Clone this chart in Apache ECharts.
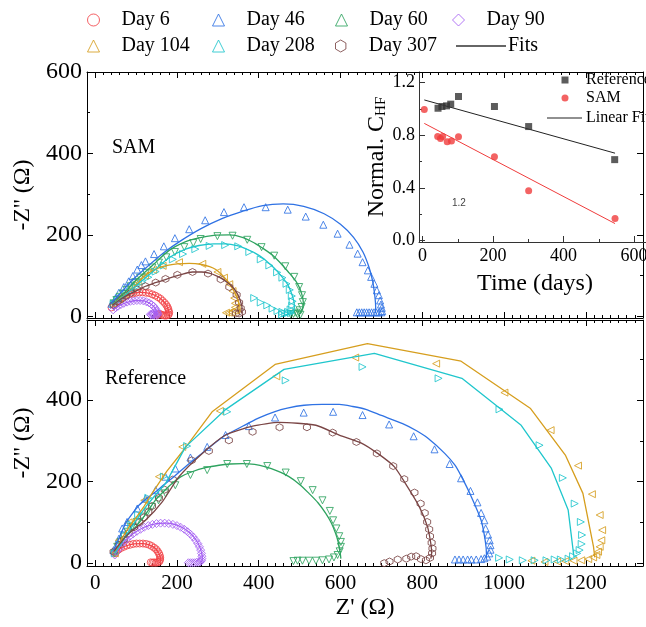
<!DOCTYPE html>
<html>
<head>
<meta charset="utf-8">
<script src="https://cdn.jsdelivr.net/npm/echarts@6/dist/echarts.min.js"></script>
<style>
  html, body { margin: 0; padding: 0; background: #fff; }
  #chart { width: 646px; height: 627px; }
</style>
</head>
<body>
<div id="chart"></div>
<script>
// ---- SAM panel (top): Nyquist data, [Z', -Z''] in ohm
var samD6 = [[40,22],[45,28],[50,33],[56,38],[62,43],[69,47],[76,51],[84,54],[92,56],[100,58],[108,59],[116,59],[124,58],[132,57],[140,54],[147,51],[154,47],[160,43],[165,38],[170,33],[174,28],[177,23],[179,18],[180,13],[181,9],[180,5],[178,3],[174,2],[170,2],[166,3],[162,4],[158,6],[155,5],[152,3]];
var samD6Fit = [[41,22],[55,37],[70,48],[90,56],[110,59],[130,57],[150,50],[165,39],[175,26],[180,12],[181,4],[179,1]];
var samD46 = [[40,31],[50,45],[58,58],[70,72],[82,86],[92,99],[103,115],[113,126],[123,135],[144,153],[168,172],[195,192],[230,214],[269,236],[315,256],[364,268],[417,268],[471,262],[515,245],[558,225],[593,203],[622,176],[642,154],[654,133],[667,113],[675,97],[683,80],[689,64],[694,52],[697,39],[699,29],[701,21],[702,13],[700,10],[694,10],[688,10],[682,10],[676,10],[670,10],[664,10],[658,10],[652,10],[646,10],[640,10]];
var samD46Fit = [[38,30],[60,55],[90,88],[130,124],[170,158],[210,186],[260,216],[310,240],[360,258],[410,272],[460,276],[510,270],[560,252],[600,226],[632,194],[655,158],[670,120],[679,85],[684,50],[686,25],[686,12],[684,8]];
var samD60 = [[45,32],[52,40],[60,48],[68,56],[77,65],[87,74],[98,84],[110,95],[124,107],[140,120],[156,132],[174,145],[195,158],[218,170],[240,180],[258,190],[299,197],[336,198],[372,188],[407,170],[438,149],[465,123],[487,97],[499,72],[506,52],[508,35],[505,23],[500,15],[492,9],[485,6],[478,5],[495,5],[502,4]];
var samD60Fit = [[42,29],[60,47],[80,67],[99,88],[140,125],[181,162],[220,183],[254,193],[290,199],[328,200],[360,194],[390,180],[409,168],[434,150],[456,128],[475,106],[490,88],[499,72],[506,52],[509,35],[508,20],[504,10],[499,5]];
var samD90 = [[44,16],[50,21],[56,25],[63,29],[70,32],[78,35],[86,37],[94,38],[102,39],[110,39],[118,38],[125,36],[132,33],[138,29],[143,25],[147,20],[150,15],[152,10],[153,6],[152,3],[148,2],[144,3],[140,4],[137,3],[135,5],[140,7],[145,6]];
var samD90Fit = [[44,16],[60,27],[80,35],[100,39],[120,38],[135,31],[146,21],[151,10],[152,3]];
var samD104 = [[45,30],[58,42],[72,55],[88,70],[104,85],[122,100],[142,114],[165,124],[205,133],[262,129],[299,109],[315,95],[328,79],[336,62],[340,45],[342,32],[342,22],[339,14],[334,10],[327,9],[320,9]];
var samD104Fit = [[42,27],[62,45],[82,60],[103,80],[123,101],[142,113],[160,121],[180,126],[201,129],[230,130],[258,128],[280,122],[295,115],[308,104],[319,92],[329,80],[336,68],[343,55],[348,43],[352,32],[354,23],[354,11],[350,7]];
var samD208 = [[45,30],[55,38],[65,46],[75,53],[87,62],[100,72],[115,84],[130,96],[148,110],[168,125],[190,140],[215,153],[245,165],[280,173],[318,175],[350,172],[377,158],[405,140],[426,125],[445,108],[458,95],[468,80],[476,65],[481,50],[483,37],[482,26],[478,17],[472,11],[465,7],[457,5],[479,8],[471,8],[458,11],[446,13],[434,19],[421,27],[405,34],[389,45]];
var samD208Fit = [[42,27],[70,50],[99,74],[140,109],[181,144],[221,165],[254,174],[290,178],[319,178],[350,173],[368,166],[390,156],[409,144],[430,126],[446,110],[461,92],[471,78],[479,60],[484,45],[487,30],[487,20],[484,11],[478,6],[468,5]];
var samD307 = [[45,28],[55,36],[65,43],[75,50],[88,58],[103,66],[123,74],[148,83],[172,92],[201,102],[238,109],[276,105],[307,91],[328,72],[346,53],[352,34],[356,20],[359,11],[352,7],[344,7]];
var samD307Fit = [[42,27],[62,42],[82,54],[103,64],[123,74],[145,82],[164,88],[185,95],[205,101],[238,109],[260,109],[279,106],[298,99],[311,92],[325,82],[336,72],[345,60],[352,47],[356,35],[359,23],[359,12],[357,7]];

// ---- Reference panel (bottom)
var refD6 = [[48,24],[52,29],[57,33],[63,37],[70,40],[77,43],[85,45],[93,47],[101,48],[109,48],[117,48],[125,47],[132,45],[138,42],[144,38],[149,34],[153,29],[156,24],[158,19],[159,14],[159,10],[158,6],[156,3],[152,2],[148,1],[144,2],[140,1],[136,2]];
var refD6Fit = [[48,24],[60,35],[75,42],[95,47],[115,48],[132,45],[145,38],[153,29],[158,19],[160,9],[159,3],[155,1]];
var refD46 = [[45,32],[58,60],[66,85],[78,101],[103,134],[123,158],[148,179],[172,212],[196,232],[233,259],[274,285],[319,314],[376,336],[440,357],[510,369],[582,371],[654,363],[719,340],[779,311],[830,279],[867,243],[895,208],[918,177],[935,149],[944,123],[952,105],[955,85],[961,70],[965,56],[967,44],[967,33],[964,24],[959,16],[952,12],[944,10],[932,9],[920,9],[911,9],[900,9],[890,9],[880,9]];
var refD46Fit = [[45,32],[60,65],[74,97],[90,120],[107,142],[128,160],[148,175],[168,192],[188,208],[225,240],[266,273],[300,300],[319,314],[350,330],[376,344],[405,358],[438,371],[470,380],[511,387],[555,389],[597,389],[630,384],[662,377],[700,362],[752,342],[785,325],[814,306],[855,269],[880,240],[896,212],[920,163],[944,105],[954,56],[957,24],[957,11]];
var refD60 = [[48,24],[54,40],[62,52],[70,65],[80,77],[90,89],[102,101],[115,114],[128,126],[139,138],[155,154],[172,171],[196,191],[233,216],[274,228],[323,243],[371,243],[421,238],[466,222],[503,201],[532,179],[556,154],[574,128],[582,105],[590,85],[597,66],[601,52],[601,40],[598,29],[593,20],[584,14],[572,9],[556,7],[540,6],[523,6],[507,6],[495,6],[485,5]];
var refD60Fit = [[48,24],[70,60],[99,89],[125,122],[147,154],[170,178],[188,195],[210,212],[237,224],[270,234],[303,240],[330,243],[360,244],[390,242],[417,236],[445,226],[474,212],[500,193],[523,171],[545,148],[564,122],[578,98],[588,73],[595,50],[598,32],[600,20],[601,11]];
var refD90 = [[48,20],[52,28],[58,36],[64,44],[70,52],[77,59],[85,66],[93,72],[102,78],[111,83],[120,88],[130,92],[140,95],[150,97],[160,98],[170,98],[180,97],[190,95],[200,92],[209,88],[218,83],[226,77],[233,71],[240,64],[246,56],[251,48],[255,40],[258,32],[260,24],[261,17],[261,11],[260,6],[257,3],[253,2],[248,2],[243,1],[238,1],[233,1],[228,1]];
var refD90Fit = [[48,20],[60,40],[75,57],[95,74],[120,88],[150,97],[175,98],[200,93],[222,82],[240,66],[252,48],[259,30],[262,14],[261,5],[257,2]];
var refD104 = [[48,24],[58,56],[82,100],[120,154],[156,212],[213,285],[305,373],[443,458],[636,504],[834,489],[1001,418],[1114,326],[1181,239],[1215,169],[1234,118],[1240,81],[1238,56],[1234,40],[1230,28],[1226,20],[1218,14],[1206,10],[1189,7],[1170,6],[1150,5],[1130,4],[1099,3],[1067,6]];
var refD104Fit = [[48,24],[65,60],[82,88],[99,110],[120,140],[139,171],[175,225],[213,273],[286,371],[440,487],[666,538],[895,495],[1065,379],[1150,265],[1193,171],[1219,40],[1222,14]];
var refD208 = [[48,24],[60,45],[72,70],[88,95],[105,120],[130,160],[168,212],[225,287],[323,371],[466,448],[654,481],[840,453],[989,377],[1087,289],[1144,209],[1173,146],[1188,101],[1191,69],[1190,47],[1185,32],[1179,24],[1169,17],[1158,11],[1139,9],[1124,9],[1104,7],[1075,7],[1046,7],[1014,9],[988,13]];
var refD208Fit = [[48,24],[65,50],[82,78],[100,105],[125,140],[150,170],[172,195],[221,285],[317,375],[462,475],[683,514],[897,453],[1042,338],[1116,232],[1157,130],[1169,32],[1170,20]];
var refD307 = [[45,28],[58,45],[70,58],[82,73],[95,88],[108,100],[119,112],[130,125],[139,140],[156,160],[170,180],[190,205],[236,252],[278,275],[327,301],[385,322],[451,333],[518,333],[581,320],[639,297],[689,269],[729,238],[756,206],[781,173],[796,146],[806,123],[812,101],[817,83],[819,66],[823,50],[825,36],[824,24],[819,13],[809,7],[797,10],[785,17],[773,16],[761,11],[740,9],[720,4],[707,0]];
var refD307Fit = [[45,28],[82,73],[123,105],[164,150],[205,212],[262,269],[319,314],[385,336],[450,345],[540,338],[597,314],[650,295],[691,269],[732,236],[764,187],[793,138],[813,89],[821,48],[823,24],[821,11]];

// ---- inset: normalised C_HF vs time
var insetRef = [[44,1.005],[55,1.018],[68,1.023],[80,1.036],[102,1.094],[204,1.018],[301,0.866],[545,0.615]];
var insetSam = [[5,0.995],[43,0.79],[51,0.775],[57,0.79],[70,0.75],[82,0.757],[102,0.788],[204,0.636],[301,0.378],[546,0.168]];
var insetRefFit = [[5,1.068],[546,0.664]];
var insetSamFit = [[5,0.89],[546,0.13]];

// ticks
var xTicks = [0, 200, 400, 600, 800, 1000, 1200];
var yTicksTop = [0, 200, 400, 600];
var yTicksBot = [0, 200, 400];
var yMinorMain = [100, 300, 500];
var inXTicks = [0, 200, 400, 600];
var inXMinor = [100, 300, 500];
var inYTicks = [0, 0.4, 0.8, 1.2];
var inYMinor = [0.2, 0.6, 1.0];

var xMinor = [];
for (var v = -20; v <= 1340; v += 20) { if (v % 200 !== 0) xMinor.push(v); }

var FONT = 'Liberation Serif';
var COL = {
  d6: '#f2454a', d46: '#2f72e4', d60: '#2ea35f', d90: '#a45ff2',
  d104: '#d69e1e', d208: '#1fc6cc', d307: '#7a4545'
};
var HEX = 'path://M0,-1L0.866,-0.5L0.866,0.5L0,1L-0.866,0.5L-0.866,-0.5Z';

function ax(o) {
  var a = {
    type: 'value', gridIndex: o.g, min: o.min, max: o.max, position: o.pos,
    axisLine: { show: o.line !== false, onZero: false, lineStyle: { color: o.color || '#000', width: 1 } },
    axisTick: { show: true, inside: true, length: o.len || 6, customValues: o.ticks, lineStyle: { color: o.color || '#000', width: 1 } },
    axisLabel: { show: false },
    splitLine: { show: false }
  };
  if (o.labels) {
    a.axisLabel = { show: true, customValues: o.labels, fontFamily: FONT, fontSize: o.fs || 22, color: '#000', margin: o.margin || 6,
      formatter: o.fmt || function (v) { return String(v); } };
  }
  if (o.name) {
    a.name = o.name; a.nameLocation = 'middle'; a.nameGap = o.nameGap;
    a.nameTextStyle = o.nameStyle || { fontFamily: FONT, fontSize: 24, color: '#000' };
  }
  return a;
}

var xAxes = [
  ax({ g: 0, min: -20, max: 1340, pos: 'bottom', ticks: xTicks }),
  ax({ g: 0, min: -20, max: 1340, pos: 'top', ticks: xTicks }),
  ax({ g: 1, min: -20, max: 1340, pos: 'bottom', ticks: xTicks, labels: xTicks, fs: 21, margin: 7, name: "Z' (Ω)", nameGap: 30 }),
  ax({ g: 1, min: -20, max: 1340, pos: 'top', ticks: xTicks }),
  ax({ g: 2, min: -10, max: 648, pos: 'bottom', ticks: inXTicks, labels: inXTicks, fs: 18, margin: 5, color: '#333', name: 'Time (days)', nameGap: 30 }),
  ax({ g: 0, min: -20, max: 1340, pos: 'bottom', ticks: xMinor, len: 3, line: false }),
  ax({ g: 0, min: -20, max: 1340, pos: 'top', ticks: xMinor, len: 3, line: false }),
  ax({ g: 1, min: -20, max: 1340, pos: 'bottom', ticks: xMinor, len: 3, line: false }),
  ax({ g: 1, min: -20, max: 1340, pos: 'top', ticks: xMinor, len: 3, line: false }),
  ax({ g: 2, min: -10, max: 648, pos: 'bottom', ticks: inXMinor, len: 3, line: false, color: '#333' })
];

var yAxes = [
  ax({ g: 0, min: -4, max: 600, pos: 'left', ticks: yTicksTop, labels: yTicksTop, fs: 24, margin: 5, name: "-Z'' (Ω)", nameGap: 46 }),
  ax({ g: 0, min: -4, max: 600, pos: 'right', ticks: yTicksTop }),
  ax({ g: 1, min: -7, max: 596, pos: 'left', ticks: yTicksBot, labels: yTicksBot, fs: 24, margin: 5, name: "-Z'' (Ω)", nameGap: 46 }),
  ax({ g: 1, min: -7, max: 596, pos: 'right', ticks: yTicksBot }),
  ax({ g: 2, min: -0.01, max: 1.28, pos: 'left', ticks: inYTicks, labels: inYTicks, fs: 18, margin: 4, color: '#333',
       fmt: function (v) { return v.toFixed(1); },
       name: '{a|Normal. C}{b|HF}', nameGap: 30,
       nameStyle: { color: '#000', rich: {
         a: { fontFamily: FONT, fontSize: 24, lineHeight: 24, verticalAlign: 'top' },
         b: { fontFamily: FONT, fontSize: 15, lineHeight: 15, verticalAlign: 'bottom', padding: [12, 0, 0, 0] }
       } } }),
  ax({ g: 0, min: -4, max: 600, pos: 'left', ticks: yMinorMain, len: 3, line: false }),
  ax({ g: 0, min: -4, max: 600, pos: 'right', ticks: yMinorMain, len: 3, line: false }),
  ax({ g: 1, min: -7, max: 596, pos: 'left', ticks: yMinorMain, len: 3, line: false }),
  ax({ g: 1, min: -7, max: 596, pos: 'right', ticks: yMinorMain, len: 3, line: false }),
  ax({ g: 2, min: -0.01, max: 1.28, pos: 'left', ticks: inYMinor, len: 3, line: false, color: '#333' })
];

var series = [];
function marks(name, data, color, symbol, rotate, panel) {
  series.push({
    name: name, type: 'scatter', data: data,
    xAxisIndex: panel === 0 ? 0 : 2, yAxisIndex: panel === 0 ? 0 : 2,
    symbol: symbol, symbolRotate: rotate, symbolSize: symbol === 'diamond' ? 8 : 7,
    itemStyle: { color: 'rgba(255,255,255,0)', borderColor: color, borderWidth: 1, opacity: 0.85 },
    silent: true
  });
}
function fit(name, data, color, panel, smooth) {
  series.push({
    name: name, type: 'line', data: data,
    xAxisIndex: panel === 0 ? 0 : 2, yAxisIndex: panel === 0 ? 0 : 2,
    symbol: 'none', smooth: smooth, lineStyle: { color: color, width: 1.3 }, itemStyle: { color: color },
    silent: true
  });
}

var days = [
  { n: 'Day 6', c: COL.d6, s: 'circle', r: 0, sam: samD6, samFit: samD6Fit, ref: refD6, refFit: refD6Fit, sm: 0.3 },
  { n: 'Day 46', c: COL.d46, s: 'triangle', r: 0, sam: samD46, samFit: samD46Fit, ref: refD46, refFit: refD46Fit, sm: 0.2 },
  { n: 'Day 60', c: COL.d60, s: 'triangle', r: 180, sam: samD60, samFit: samD60Fit, ref: refD60, refFit: refD60Fit, sm: 0.3 },
  { n: 'Day 90', c: COL.d90, s: 'diamond', r: 0, sam: samD90, samFit: samD90Fit, ref: refD90, refFit: refD90Fit, sm: 0.3 },
  { n: 'Day 104', c: COL.d104, s: 'triangle', r: 90, sam: samD104, samFit: samD104Fit, ref: refD104, refFit: refD104Fit, sm: 0 },
  { n: 'Day 208', c: COL.d208, s: 'triangle', r: -90, sam: samD208, samFit: samD208Fit, ref: refD208, refFit: refD208Fit, sm: 0 },
  { n: 'Day 307', c: COL.d307, s: HEX, r: 0, sam: samD307, samFit: samD307Fit, ref: refD307, refFit: refD307Fit, sm: 0.2 }
];
days.forEach(function (d) {
  marks(d.n, d.sam, d.c, d.s, d.r, 0);
  marks(d.n, d.ref, d.c, d.s, d.r, 1);
  fit(d.n + ' fit', d.samFit, d.c, 0, 0.3);
  fit(d.n + ' fit', d.refFit, d.c, 1, d.sm);
});
// legend entry for the fits
series.push({ name: 'Fits', type: 'line', data: [], xAxisIndex: 0, yAxisIndex: 0, symbol: 'none',
  lineStyle: { color: '#333', width: 1.5 }, itemStyle: { color: '#333' } });

// inset
series.push({ name: 'Reference', type: 'scatter', data: insetRef, xAxisIndex: 4, yAxisIndex: 4,
  symbol: 'rect', symbolSize: 7, itemStyle: { color: '#333' }, z: 5 });
series.push({ name: 'SAM', type: 'scatter', data: insetSam, xAxisIndex: 4, yAxisIndex: 4,
  symbol: 'circle', symbolSize: 7, itemStyle: { color: '#f03c3c' }, z: 5 });
series.push({ name: 'Linear Fit', type: 'line', data: insetRefFit, xAxisIndex: 4, yAxisIndex: 4,
  symbol: 'none', lineStyle: { color: '#222', width: 1 }, itemStyle: { color: '#222' } });
series.push({ name: 'SAM fit', type: 'line', data: insetSamFit, xAxisIndex: 4, yAxisIndex: 4,
  symbol: 'none', lineStyle: { color: '#f03c3c', width: 1 }, itemStyle: { color: '#f03c3c' } });

// marker legends: icon box of size w centred on cx, text starts at cx + gap
function legMark(name, cx, cy, w, fs, gap, bw) {
  var l = {
    data: [name], left: cx - w / 2, top: cy - fs / 2 - 1, padding: 0, itemWidth: w, itemHeight: w, selectedMode: false,
    textStyle: { fontFamily: FONT, fontSize: fs, color: '#000', padding: [0, 0, 0, gap - w / 2 - 5] }
  };
  if (bw) l.itemStyle = { borderWidth: bw };
  return l;
}
function legLine(name, x0, x1, cy, fs, lw, textX) {
  return {
    data: [{ name: name, icon: 'rect' }], left: x0, top: cy - fs / 2 - 1, padding: 0,
    itemWidth: x1 - x0, itemHeight: lw, selectedMode: false,
    textStyle: { fontFamily: FONT, fontSize: fs, color: '#000', padding: [0, 0, 0, textX - x1 - 5] }
  };
}
var legends = [
  legMark('Day 6', 93, 21, 12, 20, 28, 1), legMark('Day 46', 218, 21, 12, 20, 28, 1),
  legMark('Day 60', 341, 21, 12, 20, 28, 1), legMark('Day 90', 458, 21, 12, 20, 28, 1),
  legMark('Day 104', 93, 47, 12, 20, 28, 1), legMark('Day 208', 218, 47, 12, 20, 28, 1),
  legMark('Day 307', 341, 47, 12, 20, 28, 1), legLine('Fits', 456, 506, 47, 20, 1.5, 508),
  legMark('Reference', 565, 81, 7, 16, 21), legMark('SAM', 565, 99, 7, 16, 21),
  legLine('Linear Fit', 547, 582, 119, 16, 1, 586)
];

var chart = echarts.init(document.getElementById('chart'), null, { renderer: 'canvas' });
chart.setOption({
  backgroundColor: '#fff',
  animation: false,
  grid: [
    { left: 87, top: 72, width: 556, height: 246, outerBoundsMode: 'none' },
    { left: 87, top: 320, width: 556, height: 246, outerBoundsMode: 'none' },
    { left: 419, top: 72, width: 232, height: 170, outerBoundsMode: 'none' }
  ],
  legend: legends,
  xAxis: xAxes,
  yAxis: yAxes,
  series: series,
  graphic: [
    { type: 'text', left: 112, top: 138, style: { text: 'SAM', fontFamily: FONT, fontSize: 20, fill: '#000' } },
    { type: 'text', left: 105, top: 369, style: { text: 'Reference', fontFamily: FONT, fontSize: 20, fill: '#000' } },
    { type: 'text', left: 452, top: 198, style: { text: '1.2', fontFamily: 'Liberation Sans', fontSize: 10, fill: '#444' } }
  ]
});
</script>
</body>
</html>
